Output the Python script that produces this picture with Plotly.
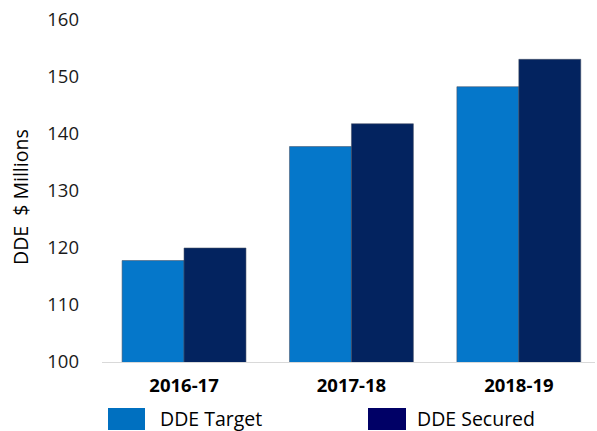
import plotly.graph_objects as go

categories = ["2016-17", "2017-18", "2018-19"]
target = [117.8, 137.8, 148.3]
secured = [120.0, 141.8, 153.1]
series_names = ["DDE Target", "DDE Secured"]
y_ticks = [100, 110, 120, 130, 140, 150, 160]

bar_colors = ["#0577CA", "#03235F"]
swatch_colors = ["#0070C0", "#000066"]

fig = go.Figure()
for name, vals, col in zip(series_names, [target, secured], bar_colors):
    fig.add_trace(go.Bar(
        x=categories, y=vals, name=name,
        marker=dict(color=col, line=dict(color="rgba(70,80,100,0.55)", width=1)),
        showlegend=False,
    ))

W, H = 597, 431
L, R, T, B = 102, 2, 20, 69
pw = W - L - R
ph = H - T - B

def px_x(p):
    return (p - L) / pw

def px_y(p):
    return (H - B - p) / ph

# custom legend with wide swatches
legend_items = [(108, 145, 158), (368, 406, 415)]
for (x0, x1, tx), name, col in zip(legend_items, series_names, swatch_colors):
    fig.add_shape(type="rect", xref="paper", yref="paper",
                  x0=px_x(x0), x1=px_x(x1), y0=px_y(430), y1=px_y(408),
                  fillcolor=col, line=dict(width=0))
    fig.add_annotation(xref="paper", yref="paper", x=px_x(tx), y=px_y(418),
                       text=name, showarrow=False, xanchor="left", yanchor="middle",
                       font=dict(family="Open Sans", size=19.5, color="#000000"))

fig.add_annotation(xref="paper", yref="paper", x=px_x(20), y=px_y(197),
                   text="DDE  $ Millions", textangle=-90, showarrow=False,
                   xanchor="center", yanchor="middle",
                   font=dict(family="Open Sans", size=19.5, color="#000000"))

fig.update_layout(
    width=W, height=H,
    margin=dict(l=L, r=R, t=T, b=B, pad=0),
    paper_bgcolor="white", plot_bgcolor="white",
    barmode="group", bargap=0.26, bargroupgap=0,
    xaxis=dict(range=[-0.49, 2.455], showline=True, linecolor="#d9d9d9", linewidth=1,
               showgrid=False, ticks="", ticklabelstandoff=7,
               tickfont=dict(family="Open Sans", size=18.5, color="#000000", weight="bold")),
    yaxis=dict(range=[100, 160], tickvals=y_ticks, showgrid=False, zeroline=False,
               showline=False, ticks="", ticklabelstandoff=22,
               tickfont=dict(family="Open Sans", size=18.5, color="#1a1a1a")),
)

fig.write_html("out.html")
